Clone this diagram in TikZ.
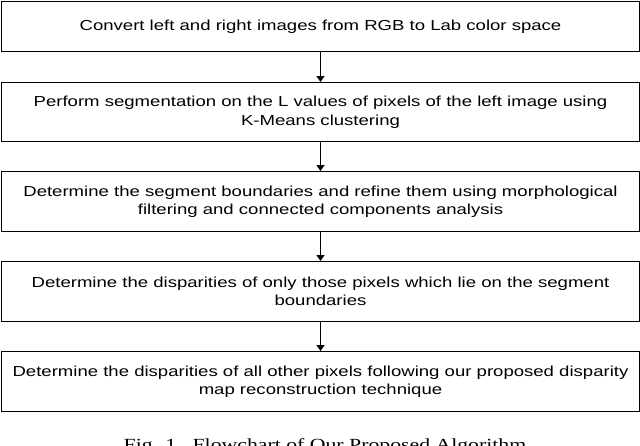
\documentclass[tikz,border=0pt]{standalone}
\usepackage{fontspec}
\setmainfont{Liberation Sans}[FakeStretch=1.28]
\newfontfamily\capfont{Liberation Serif}[FakeStretch=1.28]
\usetikzlibrary{arrows.meta}
\begin{document}
\begin{tikzpicture}[x=1pt,y=-1pt,
  stepbox/.style={draw=black,line width=1pt,minimum width=638pt,inner sep=0pt,align=center,font=\fontsize{14.5}{18.5}\selectfont,anchor=north west},
  flow/.style={-{Triangle[length=6pt,width=8pt]},line width=1.6pt}]
\clip (0,0) rectangle (640,445);
\fill[white] (0,0) rectangle (640,445);
\node[stepbox,minimum height=50pt] (b1) at (1,1) {Convert left and right images from RGB to Lab color space};
\node[stepbox,minimum height=59pt] (b2) at (1,82) {Perform segmentation on the L values of pixels of the left image using\\K-Means clustering};
\node[stepbox,minimum height=60pt] (b3) at (1,171) {Determine the segment boundaries and refine them using morphological\\filtering and connected components analysis};
\node[stepbox,minimum height=60pt] (b4) at (1,261) {Determine the disparities of only those pixels which lie on the segment\\boundaries};
\node[stepbox,minimum height=60pt] (b5) at (1,351) {Determine the disparities of all other pixels following our proposed disparity\\map reconstruction technique};
\draw[flow] (b1) -- (b2);
\draw[flow] (b2) -- (b3);
\draw[flow] (b3) -- (b4);
\draw[flow] (b4) -- (b5);
\node[font=\capfont\fontsize{17}{20}\selectfont,anchor=base,inner sep=0pt] (cap) at (325,450) {Fig. 1.\ \ Flowchart of Our Proposed Algorithm};
\end{tikzpicture}
\end{document}
